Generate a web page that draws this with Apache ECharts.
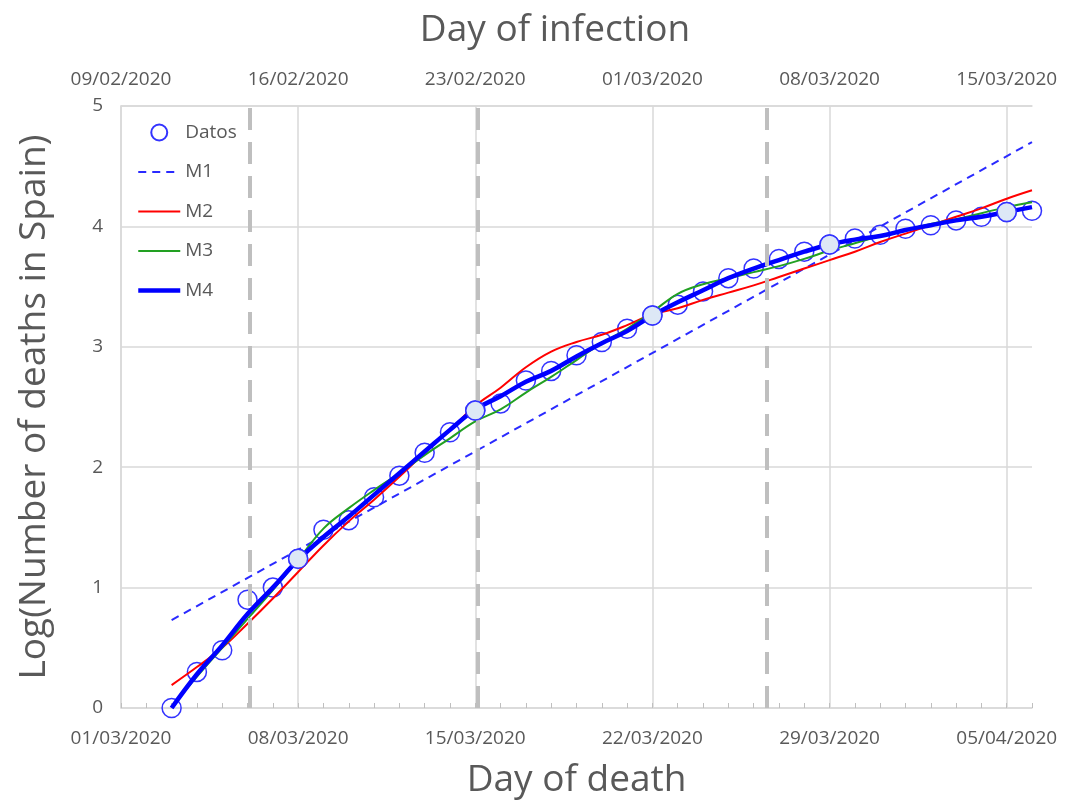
<!DOCTYPE html>
<html>
<head>
<meta charset="utf-8">
<script src="https://cdn.jsdelivr.net/npm/echarts@6/dist/echarts.min.js"></script>
<style>
  html, body { margin: 0; padding: 0; background: #fff; }
  #chart { width: 1069px; height: 800px; }
</style>
</head>
<body>
<div id="chart"></div>
<script>
// day of death axis (one category per day)
var axisDays = [
  '01/03/2020', '02/03/2020', '03/03/2020', '04/03/2020', '05/03/2020', '06/03/2020', '07/03/2020',
  '08/03/2020', '09/03/2020', '10/03/2020', '11/03/2020', '12/03/2020', '13/03/2020', '14/03/2020',
  '15/03/2020', '16/03/2020', '17/03/2020', '18/03/2020', '19/03/2020', '20/03/2020', '21/03/2020',
  '22/03/2020', '23/03/2020', '24/03/2020', '25/03/2020', '26/03/2020', '27/03/2020', '28/03/2020',
  '29/03/2020', '30/03/2020', '31/03/2020', '01/04/2020', '02/04/2020', '03/04/2020', '04/04/2020',
  '05/04/2020', '06/04/2020'
];
// day of infection labels (top axis, one per week)
var topLabels = ['09/02/2020', '16/02/2020', '23/02/2020', '01/03/2020', '08/03/2020', '15/03/2020'];

// data runs from 03/03 to 06/04
var dataDays = axisDays.slice(2);
var datos = [0.00, 0.30, 0.48, 0.90, 1.00, 1.24, 1.48, 1.56, 1.75, 1.93, 2.12, 2.29, 2.47, 2.53,
  2.72, 2.80, 2.93, 3.04, 3.15, 3.26, 3.35, 3.46, 3.57, 3.65, 3.73, 3.79, 3.85, 3.90, 3.93,
  3.98, 4.01, 4.05, 4.08, 4.12, 4.13];
var highlightDays = ['08/03/2020', '15/03/2020', '22/03/2020', '29/03/2020', '05/04/2020'];

var m1Days = ['03/03/2020', '06/04/2020'];
var m1 = [0.73, 4.70];
var m2 = [0.19, 0.34, 0.50, 0.70, 0.91, 1.13, 1.35, 1.55, 1.73, 1.92, 2.12, 2.31, 2.51, 2.66,
  2.83, 2.96, 3.04, 3.10, 3.18, 3.27, 3.32, 3.39, 3.45, 3.51, 3.58, 3.65, 3.72, 3.79, 3.87,
  3.94, 4.01, 4.08, 4.15, 4.23, 4.30];
var m3 = [0.01, 0.26, 0.50, 0.74, 0.98, 1.23, 1.49, 1.66, 1.81, 1.95, 2.10, 2.24, 2.38, 2.48,
  2.62, 2.75, 2.89, 3.03, 3.15, 3.29, 3.44, 3.52, 3.57, 3.62, 3.67, 3.73, 3.80, 3.86, 3.92,
  3.97, 4.02, 4.06, 4.11, 4.16, 4.20];
var m4 = [0.00, 0.28, 0.52, 0.78, 1.00, 1.23, 1.42, 1.59, 1.77, 1.95, 2.13, 2.31, 2.48, 2.59,
  2.71, 2.80, 2.92, 3.03, 3.13, 3.26, 3.37, 3.47, 3.57, 3.65, 3.72, 3.79, 3.85, 3.89, 3.92,
  3.97, 4.01, 4.05, 4.08, 4.12, 4.16];

// phase breaks, in days after 01/03
var phaseBreaks = [5.1, 14.1, 25.5];

var font = 'Open Sans';
var textColor = '#595959';
var gridColor = '#d9d9d9';
var markerBlue = '#3333ff';

function pairs(days, vals) {
  return vals.map(function (v, i) { return [days[i], v]; });
}

var myChart = echarts.init(document.getElementById('chart'));

var option = {
  animation: false,
  textStyle: { fontFamily: font },
  grid: { left: 121, right: 37, top: 106, bottom: 92, containLabel: false, outerBoundsMode: 'none' },
  graphic: [{
    type: 'text',
    x: 555,
    y: 30,
    style: {
      text: 'Day of infection',
      fontSize: 37,
      fontFamily: font,
      fill: textColor,
      align: 'center',
      verticalAlign: 'middle'
    }
  }],
  legend: {
    orient: 'vertical',
    left: 131,
    top: 118,
    padding: 5,
    itemWidth: 42,
    itemHeight: 16,
    itemGap: 20.5,
    textStyle: { color: textColor, fontSize: 19, fontFamily: font },
    data: [
      { name: 'Datos', itemStyle: { color: 'rgba(255,255,255,0)', borderColor: markerBlue, borderWidth: 2, opacity: 1 } },
      { name: 'M1', itemStyle: { opacity: 0 } },
      { name: 'M2', itemStyle: { opacity: 0 } },
      { name: 'M3', itemStyle: { opacity: 0 } },
      { name: 'M4', itemStyle: { opacity: 0 }, lineStyle: { width: 4.5 } }
    ]
  },
  xAxis: [
    {
      type: 'category',
      data: axisDays,
      boundaryGap: false,
      name: 'Day of death',
      nameLocation: 'middle',
      nameGap: 54,
      nameTextStyle: { color: textColor, fontSize: 37, fontFamily: font },
      axisLine: { lineStyle: { color: gridColor, width: 1.5 } },
      axisTick: { show: true, inside: true, interval: 0, length: 5, lineStyle: { color: '#bfbfbf' } },
      axisLabel: { interval: 6, color: textColor, fontSize: 19, margin: 21 },
      splitLine: { show: true, interval: 6, lineStyle: { color: gridColor, width: 1.5 } }
    },
    {
      type: 'category',
      data: axisDays,
      position: 'top',
      boundaryGap: false,
      axisLine: { lineStyle: { color: gridColor, width: 1.5 } },
      axisTick: { show: false },
      axisLabel: {
        interval: 6,
        color: textColor,
        fontSize: 19,
        margin: 17,
        formatter: function (v, i) { return topLabels[i / 7]; }
      },
      splitLine: { show: false }
    },
    {
      type: 'value',
      min: 0,
      max: 36,
      show: false
    }
  ],
  yAxis: {
    type: 'value',
    min: 0,
    max: 5,
    interval: 1,
    name: 'Log(Number of deaths in Spain)',
    nameLocation: 'middle',
    nameGap: 68,
    nameTextStyle: { color: textColor, fontSize: 37, fontFamily: font },
    axisLine: { show: true, lineStyle: { color: gridColor, width: 1.5 } },
    axisTick: { show: false },
    axisLabel: { color: textColor, fontSize: 19, margin: 18 },
    splitLine: { lineStyle: { color: gridColor, width: 1.5 } }
  },
  series: [
    {
      name: 'fases',
      type: 'line',
      xAxisIndex: 2,
      data: [],
      z: 1,
      markLine: {
        silent: true,
        symbol: 'none',
        label: { show: false },
        lineStyle: { color: '#bfbfbf', width: 4, type: [22, 12] },
        data: phaseBreaks.map(function (d) { return { xAxis: d }; })
      }
    },
    {
      name: 'Datos',
      type: 'scatter',
      data: pairs(dataDays, datos),
      symbol: 'circle',
      symbolSize: 19,
      z: 2,
      itemStyle: { color: 'rgba(255,255,255,0)', borderColor: markerBlue, borderWidth: 1.5, opacity: 1 }
    },
    {
      name: 'M1',
      type: 'line',
      data: pairs(m1Days, m1),
      symbol: 'none',
      z: 3,
      lineStyle: { color: '#2a2aff', width: 2, type: [8, 6] },
      itemStyle: { color: '#2a2aff' }
    },
    {
      name: 'M2',
      type: 'line',
      data: pairs(dataDays, m2),
      symbol: 'none',
      smooth: 0.4,
      z: 3,
      lineStyle: { color: '#ff0000', width: 2 },
      itemStyle: { color: '#ff0000' }
    },
    {
      name: 'M3',
      type: 'line',
      data: pairs(dataDays, m3),
      symbol: 'none',
      smooth: 0.4,
      z: 3,
      lineStyle: { color: '#22a022', width: 2 },
      itemStyle: { color: '#22a022' }
    },
    {
      name: 'M4',
      type: 'line',
      data: pairs(dataDays, m4),
      symbol: 'none',
      smooth: 0.4,
      z: 4,
      lineStyle: { color: '#0000ff', width: 4.5 },
      itemStyle: { color: '#0000ff' }
    },
    {
      name: 'Datos domingo',
      type: 'scatter',
      data: pairs(dataDays, datos).filter(function (p) { return highlightDays.indexOf(p[0]) >= 0; }),
      symbol: 'circle',
      symbolSize: 19,
      z: 5,
      itemStyle: { color: '#dde8f6', borderColor: markerBlue, borderWidth: 1.5, opacity: 1 }
    }
  ]
};

myChart.setOption(option);
window.addEventListener('resize', function () {
  myChart.resize();
});
</script>
</body>
</html>
